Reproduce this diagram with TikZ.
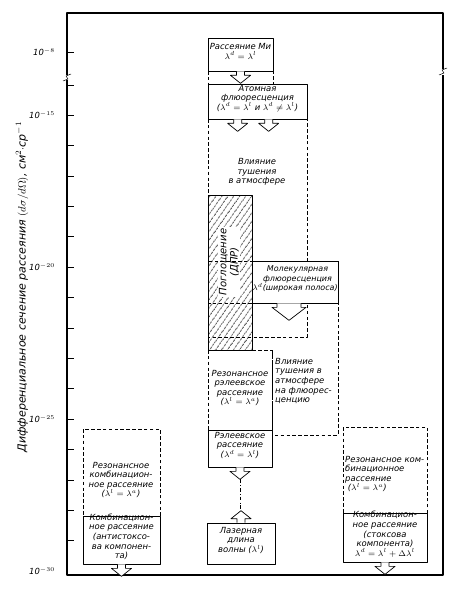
\documentclass[tikz,border=0pt]{standalone}
\usepackage{fontspec}
\setmainfont{DejaVu Sans}[ItalicFont={DejaVu Sans Oblique}]
\usetikzlibrary{fit,calc,patterns.meta}
\tikzset{
  frame/.style={line width=0.9pt},
  box/.style={draw,fill=white,inner sep=0pt,align=center,line width=0.6pt},
  txt/.style={align=center,inner sep=0pt},
  dashbox/.style={dash pattern=on 3pt off 2pt,line width=0.5pt},
  hatchbox/.style={draw,inner sep=0pt,line width=0.6pt,
    pattern={Lines[angle=55,distance=4pt,line width=0.4pt]}},
  hollow/.pic={\draw[line width=0.6pt,fill=white]
    (-4,0) -- (-4,4) -- (-10,4) -- (0,12) -- (10,4) -- (4,4) -- (4,0);},
  hollowwide/.pic={\draw[line width=0.6pt,fill=white]
    (-12,0) -- (-12,4) -- (-17,4) -- (0,17) -- (17,4) -- (12,4) -- (12,0);}
}
\begin{document}
\begin{tikzpicture}[x=0.03cm,y=-0.03cm,line join=round,
    font=\fontsize{7.2}{8.2}\selectfont\itshape]
    \useasboundingbox (0,0) rectangle (462,594);

    \draw[frame] (67,75) -- (67,13) -- (443,13) -- (443,69);
    \draw[frame] (67,80) -- (67,575) -- (443,575) -- (443,75);
    \draw (63,81) -- (68,79) -- (66,76) -- (71,74);
    \draw (439,75) -- (444,73) -- (442,70) -- (447,68);

    \foreach \y in {52,85}
        \draw (67,\y) -- (74,\y);
    \foreach \k in {0,...,14}
        \draw (67,{115+30.4*\k}) -- (74,{115+30.4*\k});

    \node[anchor=east] (e8) at (59,52) {10$^{-8}$};
    \node[anchor=east] (e15) at (59,115) {10$^{-15}$};
    \node[anchor=east] (e20) at (59,267) {10$^{-20}$};
    \node[anchor=east] (e25) at (59,419) {10$^{-25}$};
    \node[anchor=east] (e30) at (59,571) {10$^{-30}$};
    \node[rotate=90,font=\fontsize{9.4}{11}\selectfont\itshape] (ylab) at (22,287)
        {Дифференциальное сечение рассеяния $(d\sigma/d\Omega)$, см$^2\cdot$ср$^{-1}$};

    \node[hatchbox,fit={(208,195) (252,350)}] (absorb) {};
    \node[txt,rotate=90,fill=white,inner sep=1pt,
        font=\fontsize{8.6}{9.6}\selectfont\itshape] (absorblab) at (229,262)
        {Поглощение\\(ДПР)};

    \draw[dashbox] (208,71) rectangle (273,84);
    \draw[dashbox] (208,119) rectangle (307,337);
    \draw[dashbox] (208,261) rectangle (338,303);
    \draw[dashbox] (272,350) -- (272,435) -- (338,435) -- (338,303);
    \draw[dashbox] (208,350) rectangle (272,430);
    \draw[dashbox] (83,429) rectangle (160,516);
    \draw[dashbox] (343,427) rectangle (427,513);

    \node[box,align=left,fit={(208,38) (273,71)}] (mie)
        {Рассеяние Ми\\$\lambda^d=\lambda^l$};
    \node[box,fit={(208,84) (307,119)}] (atom)
        {Атомная\\флюоресценция\\($\lambda^d=\lambda^l$ и $\lambda^d\neq\lambda^l$)};
    \node[box,align=left,font=\fontsize{6.8}{8.2}\selectfont\itshape,
        fit={(252,261) (338,303)}] (mol)
        {\ \ Молекулярная\\\ \ флюоресценция\\$\lambda^d$(широкая полоса)};
    \node[box,fit={(208,430) (272,467)}] (ray)
        {Рэлеевское\\рассеяние\\($\lambda^d=\lambda^l$)};
    \node[box,fit={(207,523) (275,564)}] (laser)
        {Лазерная\\длина\\волны ($\lambda^l$)};
    \node[box,fit={(83,516) (160,564)}] (akr)
        {Комбинацион-\\ное рассеяние\\(антистоксо-\\ва компонен-\\та)};
    \node[box,align=left,fit={(343,513) (427,562)}] (skr)
        {Комбинацион-\\ное рассеяние\\(стоксова\\компонента)\\$\lambda^d=\lambda^l+\Delta\lambda^l$};

    \node[txt] (quench) at (257,172) {Влияние\\тушения\\в атмосфере};
    \node[txt] (resray) at (240,388)
        {Резонансное\\рэлеевское\\рассеяние\\($\lambda^l=\lambda^a$)};
    \node[txt,align=left,anchor=west] (quenchfl) at (275,381)
        {Влияние\\тушения в\\атмосфере\\на флюорес-\\ценцию};
    \node[txt] (reskrl) at (121,480)
        {Резонансное\\комбинацион-\\ное рассеяние\\($\lambda^l=\lambda^a$)};
    \node[txt,align=left,anchor=west] (reskrr) at (345,474)
        {Резонансное ком-\\бинационное\\рассеяние\\ \ ($\lambda^l=\lambda^a$)};

    \pic at (mie.south) {hollow};
    \pic at ($(atom.south west)+(30,0)$) {hollow};
    \pic at ($(atom.south west)+(61,0)$) {hollow};
    \pic at ($(mol.south)+(-6,0)$) {hollowwide};
    \pic at (ray.south) {hollow};
    \pic[rotate=180] at (laser.north) {hollow};
    \pic at (akr.south) {hollow};
    \pic at (skr.south) {hollow};

    \coordinate (raytip) at ($(ray.south)+(0,12)$);
    \coordinate (lasertip) at ($(laser.north)+(0,-12)$);
    \draw[dash dot,line width=0.8pt] (raytip) -- (raytip |- lasertip);
\end{tikzpicture}
\end{document}
